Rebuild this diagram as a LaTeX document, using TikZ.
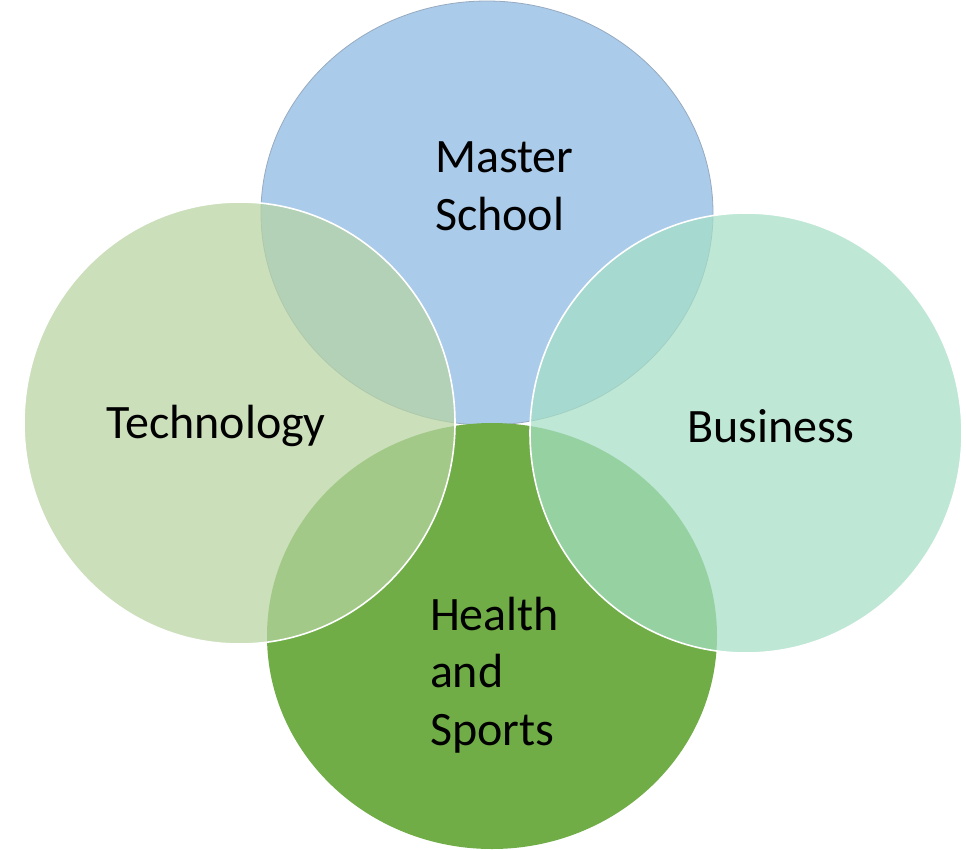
\documentclass[tikz,border=0pt]{standalone}
\usepackage{fontspec}
\setmainfont{Carlito}
\usetikzlibrary{shapes.geometric}
\definecolor{msblue}{HTML}{ABCBEA}
\definecolor{msedge}{HTML}{97ABC0}
\definecolor{hsgreen}{HTML}{70AD47}
\definecolor{techgreen}{RGB}{183,212,162}
\definecolor{busgreen}{RGB}{165,223,197}
\begin{document}
\begin{tikzpicture}[x=1pt,y=-1pt,
  blob/.style={ellipse, inner sep=0pt, outer sep=0pt},
  glass/.style={blob, fill opacity=0.72, draw=white, line width=1.6pt},
  lbl/.style={font=\fontsize{48}{57.5}\selectfont, align=left, inner sep=0pt, outer sep=0pt, text=black}]
\fill[white] (0,0) rectangle (966,849);
\useasboundingbox (0,0) rectangle (966,849);
\node[blob, fill=msblue, draw=msedge, line width=0.8pt, minimum width=452pt, minimum height=424pt] (master) at (487,213) {};
\node[blob, fill=hsgreen, minimum width=450pt, minimum height=426pt] (health) at (492,636) {};
\node[glass, fill=techgreen, minimum width=431pt, minimum height=442pt] (tech) at (239.5,423) {};
\node[glass, fill=busgreen, minimum width=432pt, minimum height=440pt] (business) at (746,433) {};
\node[lbl, anchor=base west] (tmaster) at (435,230) {Master\\School};
\node[lbl, anchor=base west] (ttech) at (106,438) {Technology};
\node[lbl, anchor=base west] (tbus) at (687,442) {Business};
\node[lbl, anchor=base west] (thealth) at (430,745) {Health\\and\\Sports};
\end{tikzpicture}
\end{document}
